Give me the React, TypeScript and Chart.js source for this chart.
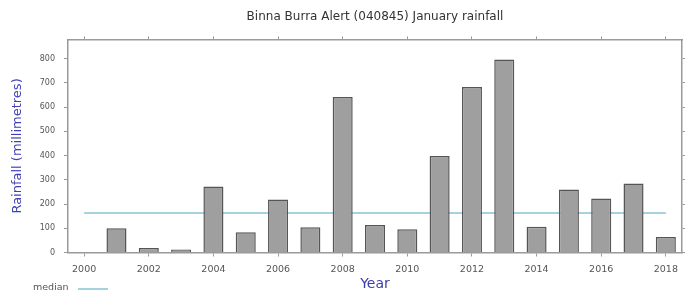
import React, { useEffect, useRef } from "react";
import { Chart, registerables } from "chart.js";

Chart.register(...registerables);

const years = ["2000","2001","2002","2003","2004","2005","2006","2007","2008","2009","2010","2011","2012","2013","2014","2015","2016","2017","2018"];
const rainfall = [null, 100, 19, 12, 273, 84, 219, 104, 642, 114, 96, 399, 683, 797, 106, 260, 223, 285, 64];
const medianValues = [163,163,163,163,163,163,163,163,163,163,163,163,163,163,163,163,163,163,163];
const yTicks = [0, 100, 200, 300, 400, 500, 600, 700, 800];

const FONT = "'DejaVu Sans', Verdana, sans-serif";
const MEDIAN_COLOR = "#a6d2dc";
const FRAME = "#9a9a9a";

const legendPlugin = {
  id: "medianLegend",
  afterDraw(chart: any) {
    const ctx = chart.ctx;
    ctx.save();
    ctx.font = `9.5px ${FONT}`;
    ctx.fillStyle = "#555";
    ctx.textBaseline = "middle";
    ctx.textAlign = "left";
    ctx.fillText("median", 33, 288);
    ctx.strokeStyle = MEDIAN_COLOR;
    ctx.lineWidth = 2;
    ctx.beginPath();
    ctx.moveTo(78, 289);
    ctx.lineTo(108, 289);
    ctx.stroke();
    ctx.restore();
  },
};

export default function App() {
  const ref = useRef<HTMLCanvasElement | null>(null);
  useEffect(() => {
    if (!ref.current) return;
    const xCb = (v: any, i: number) => (i % 2 === 0 ? years[i] : null);
    const yCb = (v: any) => (yTicks.includes(v) ? String(v) : null);
    const chart = new Chart(ref.current, {
      type: "bar",
      data: {
        labels: years,
        datasets: [
          {
            type: "bar",
            label: "Rainfall",
            data: rainfall as any,
            backgroundColor: "#9f9f9f",
            borderColor: "#555555",
            borderWidth: 1.5,
            barPercentage: 0.62,
            categoryPercentage: 1,
            order: 0,
          },
          {
            type: "line",
            label: "median",
            data: medianValues,
            borderColor: MEDIAN_COLOR,
            borderWidth: 2,
            pointRadius: 0,
            fill: false,
            order: 1,
          } as any,
        ],
      },
      options: {
        responsive: false,
        animation: false,
        devicePixelRatio: 1,
        layout: { padding: 0 },
        plugins: {
          legend: { display: false },
          tooltip: { enabled: false },
          title: {
            display: true,
            text: "Binna Burra Alert (040845) January rainfall",
            fullSize: false,
            color: "#333",
            font: { family: FONT, size: 12, weight: "normal" },
            padding: { top: 10, bottom: 5 },
          } as any,
        },
        scales: {
          x: {
            type: "category",
            position: "bottom",
            offset: true,
            grid: { display: true, drawOnChartArea: false, drawTicks: true, tickLength: 4, tickColor: FRAME, offset: false },
            border: { display: true, color: FRAME, width: 1.5 },
            ticks: { autoSkip: false, maxRotation: 0, padding: 7, color: "#555", font: { family: FONT, size: 9.5 }, callback: xCb },
            title: { display: true, text: "Year", color: "#3b3bb0", font: { family: FONT, size: 14 }, padding: { top: 0, bottom: 2 } },
            afterFit: (s: any) => { s.height = 42.5; },
          },
          x2: {
            type: "category",
            position: "top",
            offset: true,
            labels: years,
            grid: { display: true, drawOnChartArea: false, drawTicks: true, tickLength: 3, tickColor: FRAME, offset: false },
            border: { display: true, color: FRAME, width: 1.5 },
            ticks: { autoSkip: false, display: false, callback: xCb },
            afterFit: (s: any) => { s.height = 10; },
          } as any,
          y: {
            type: "linear",
            position: "left",
            min: 0,
            max: 880,
            grid: { display: true, drawOnChartArea: false, drawTicks: true, tickLength: 4, tickColor: FRAME },
            border: { display: true, color: FRAME, width: 1.5 },
            ticks: { stepSize: 100, padding: 9, color: "#555", font: { family: FONT, size: 8 }, callback: yCb },
            title: { display: true, text: "Rainfall (millimetres)", color: "#4040b8", font: { family: FONT, size: 13 }, padding: { top: 10, bottom: 0 } },
            afterFit: (s: any) => { s.width = 68; },
          },
          y2: {
            type: "linear",
            position: "right",
            min: 0,
            max: 880,
            grid: { display: true, drawOnChartArea: false, drawTicks: true, tickLength: 3, tickColor: FRAME },
            border: { display: true, color: FRAME, width: 1.5 },
            ticks: { stepSize: 100, display: false, callback: yCb },
            afterFit: (s: any) => { s.width = 5; },
          },
        },
      } as any,
      plugins: [legendPlugin],
    });
    return () => chart.destroy();
  }, []);
  return (
    <div style={{ position: "absolute", left: 0, top: 0, width: 687, height: 295, background: "#fff" }}>
      <canvas ref={ref} width={687} height={295} style={{ width: 687, height: 295 }} />
    </div>
  );
}
